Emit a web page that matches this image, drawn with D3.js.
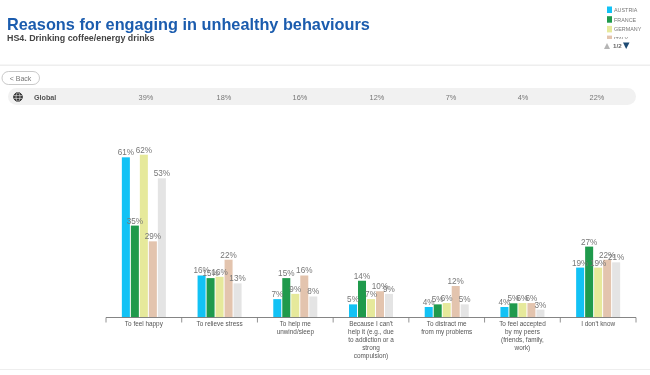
<!DOCTYPE html>
<html>
<head>
<meta charset="utf-8">
<style>
  html, body { margin: 0; padding: 0; background: #fff; overflow: hidden; }
  text { font-family: "Liberation Sans", Arial, sans-serif; }
  svg { display: block; filter: blur(0.35px); }
</style>
</head>
<body>
<script src="https://d3js.org/d3.v7.min.js"></script>
<script>
var categories = ['To feel happy', 'To relieve stress', 'To help me\nunwind/sleep',
    "Because I can't\nhelp it (e.g., due\nto addiction or a\nstrong\ncompulsion)",
    'To distract me\nfrom my problems', 'To feel accepted\nby my peers\n(friends, family,\nwork)', "I don't know"];
// only the rows on legend page 1 show, the fourth is cut off by the box
var seriesNames = ['AUSTRIA', 'FRANCE', 'GERMANY', 'ITALY'];
var seriesColors = ['#12c2f5', '#1f9a4c', '#e6e99b', '#e3c4ae', '#e4e4e4'];
var austria = [61, 16, 7, 5, 4, 4, 19];
var france = [35, 15, 15, 14, 5, 5.4, 27];
var germany = [62, 15.5, 9, 7, 5.5, 5.5, 19];
var italy = [29, 22, 16, 10, 12, 5.5, 22];
var spain = [53, 13, 8, 9, 5, 3, 21];
var globalValues = ['39%', '18%', '16%', '12%', '7%', '4%', '22%'];
var globalCenters = [146, 224, 300, 377, 451, 523, 597];
var allSeries = [austria, france, germany, italy, spain];

var width = 650, height = 375;
var svg = d3.select('body').append('svg').attr('width', width).attr('height', height);

// header
svg.append('text').attr('x', 7).attr('y', 30).attr('font-size', 16.3).attr('font-weight', 'bold')
    .attr('fill', '#1b5cae').text('Reasons for engaging in unhealthy behaviours');
svg.append('text').attr('x', 7).attr('y', 41).attr('font-size', 8.9).attr('font-weight', 'bold')
    .attr('fill', '#444').text('HS4. Drinking coffee/energy drinks');
svg.append('rect').attr('x', 0).attr('y', 64.5).attr('width', width).attr('height', 1.5).attr('fill', '#eeeeee');
svg.append('rect').attr('x', 0).attr('y', 369).attr('width', width).attr('height', 1).attr('fill', '#eeeeee');

// legend, cut off after the third row like a scrolled box
var clip = svg.append('clipPath').attr('id', 'legendClip');
clip.append('rect').attr('x', 600).attr('y', 0).attr('width', 50).attr('height', 39);
var legend = svg.append('g').attr('clip-path', 'url(#legendClip)');
var legendRows = legend.selectAll('g').data(seriesNames).enter().append('g')
    .attr('transform', function(d, i) { return 'translate(607,' + (6.5 + i * 9.7) + ')'; });
legendRows.append('rect').attr('width', 5).attr('height', 6.5)
    .attr('fill', function(d, i) { return seriesColors[i]; });
legendRows.append('text').attr('x', 7).attr('y', 5.5).attr('font-size', 5.4).attr('fill', '#777')
    .text(function(d) { return d; });
svg.append('path').attr('d', 'M604,49 L607,43 L610,49 Z').attr('fill', '#b5b5b5');
svg.append('text').attr('x', 613).attr('y', 48).attr('font-size', 6.2).attr('font-weight', 'bold')
    .attr('fill', '#666').text('1/2');
svg.append('path').attr('d', 'M623,42.5 L629.5,42.5 L626.2,49 Z').attr('fill', '#1d4a73');

// back button
svg.append('rect').attr('x', 2).attr('y', 71.5).attr('width', 37.5).attr('height', 13).attr('rx', 6.5)
    .attr('fill', '#fff').attr('stroke', '#bbb').attr('stroke-width', 0.8);
svg.append('text').attr('x', 20.5).attr('y', 80.5).attr('text-anchor', 'middle').attr('font-size', 7)
    .attr('fill', '#777').text('< Back');

// global row
svg.append('rect').attr('x', 8).attr('y', 88).attr('width', 628).attr('height', 17).attr('rx', 8.5).attr('fill', '#f1f1f1');
var globe = svg.append('g').attr('transform', 'translate(18,97)').attr('fill', 'none').attr('stroke', '#333').attr('stroke-width', 0.9);
globe.append('circle').attr('r', 4.4).attr('fill', '#333');
globe.append('ellipse').attr('rx', 2).attr('ry', 4.4).attr('stroke', '#f1f1f1').attr('stroke-width', 0.6);
globe.append('path').attr('d', 'M-4.4,-1.4 H4.4 M-4.4,1.4 H4.4').attr('stroke', '#f1f1f1').attr('stroke-width', 0.6);
svg.append('text').attr('x', 34).attr('y', 100).attr('font-size', 7.2).attr('font-weight', 'bold')
    .attr('fill', '#555').text('Global');
svg.selectAll('.globalVal').data(globalValues).enter().append('text').attr('class', 'globalVal')
    .attr('x', function(d, i) { return globalCenters[i]; }).attr('y', 100)
    .attr('text-anchor', 'middle').attr('font-size', 7.4).attr('fill', '#777')
    .text(function(d) { return d; });

// chart
var axisY = 317.5;
var x = d3.scaleBand().domain(categories).range([106, 636]);
var xInner = d3.scaleBand().domain(d3.range(5)).range([-22, 22]).paddingInner(0.11);
var y = d3.scaleLinear().domain([0, 62]).range([axisY, 154.7]);

var groups = svg.selectAll('.cat').data(categories).enter().append('g').attr('class', 'cat')
    .attr('transform', function(d) { return 'translate(' + (x(d) + x.bandwidth() / 2) + ',0)'; });

groups.each(function(c, ci) {
    var g = d3.select(this);
    g.selectAll('rect').data(allSeries).enter().append('rect')
        .attr('x', function(s, i) { return xInner(i); })
        .attr('width', xInner.bandwidth())
        .attr('y', function(s) { return y(s[ci]); })
        .attr('height', function(s) { return axisY - y(s[ci]); })
        .attr('fill', function(s, i) { return seriesColors[i]; });
});
groups.each(function(c, ci) {
    d3.select(this).selectAll('.lab').data(allSeries).enter().append('text').attr('class', 'lab')
        .attr('x', function(s, i) { return xInner(i) + xInner.bandwidth() / 2; })
        .attr('y', function(s) { return y(s[ci]) - 2; })
        .attr('text-anchor', 'middle').attr('font-size', 8.2).attr('fill', '#777')
        .text(function(s) { return Math.round(s[ci]) + '%'; });
});

// axis: ticks sit on the band edges, labels under band centres
var xAxis = d3.axisBottom(x).tickSize(0).tickPadding(2);
var axisG = svg.append('g').attr('transform', 'translate(0,' + axisY + ')').call(xAxis);
axisG.select('.domain').remove();
axisG.selectAll('text').attr('font-family', null).attr('font-size', 6.4).attr('fill', '#555')
    .each(function(d) {
        var t = d3.select(this);
        t.text(null);
        d.split('\n').forEach(function(line, i) {
            t.append('tspan').attr('x', 0).attr('y', 8 + i * 8).text(line);
        });
    })
    .attr('dy', null);
var edges = categories.map(function(c) { return x(c); }).concat([x.range()[1]]);
axisG.selectAll('.edge').data(edges).enter().append('line').attr('class', 'edge')
    .attr('x1', function(d) { return d; }).attr('x2', function(d) { return d; })
    .attr('y1', 0).attr('y2', 5).attr('stroke', '#777').attr('stroke-width', 0.8);
axisG.append('line').attr('x1', x.range()[0]).attr('x2', x.range()[1]).attr('stroke', '#777').attr('stroke-width', 0.9);
</script>
</body>
</html>
